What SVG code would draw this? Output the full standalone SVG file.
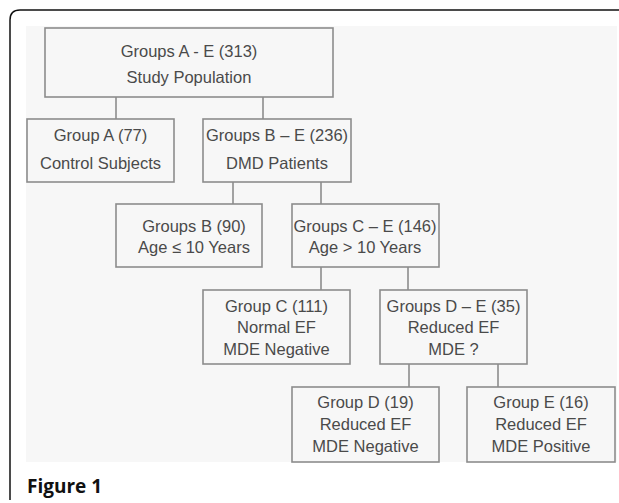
<svg xmlns="http://www.w3.org/2000/svg" width="619" height="503" viewBox="0 0 619 503">
<style>
.box{fill:#f7f7f7;stroke:#8c8c8c;stroke-width:1.6}
.t{font-family:"Liberation Sans",Arial,sans-serif;font-size:16.5px;fill:#4a4a4a;text-anchor:middle}
.c{stroke:#8c8c8c;stroke-width:1.6;fill:none}
</style>
<rect width="619" height="503" fill="#ffffff"/>
<path d="M10,500 V20 Q10,10 20,10 H619" fill="none" stroke="#111" stroke-width="1.5"/>
<rect x="26" y="26" width="591" height="436" fill="#f7f7f7"/>
<g id="connectors">
<line class="c" x1="116" y1="97" x2="116" y2="119"/>
<line class="c" x1="263" y1="97" x2="263" y2="119"/>
<line class="c" x1="233" y1="182" x2="233" y2="204"/>
<line class="c" x1="321" y1="182" x2="321" y2="204"/>
<line class="c" x1="321" y1="267" x2="321" y2="290"/>
<line class="c" x1="408" y1="267" x2="408" y2="290"/>
<line class="c" x1="409" y1="364" x2="409" y2="387"/>
<line class="c" x1="498" y1="364" x2="498" y2="387"/>
</g>
<g id="nodeAE">
<rect class="box" x="45" y="28" width="288" height="69"/>
<text class="t" x="189" y="57">Groups A - E (313)</text>
<text class="t" x="189" y="83">Study Population</text>
</g>
<g id="nodeA">
<rect class="box" x="27" y="119" width="147" height="63"/>
<text class="t" x="100.5" y="140.5">Group A (77)</text>
<text class="t" x="100.5" y="169">Control Subjects</text>
</g>
<g id="nodeBE">
<rect class="box" x="203" y="119" width="148" height="63"/>
<text class="t" x="277" y="140.5">Groups B – E (236)</text>
<text class="t" x="277" y="169">DMD Patients</text>
</g>
<g id="nodeB">
<rect class="box" x="116" y="204" width="146" height="63"/>
<text class="t" x="194" y="232">Groups B (90)</text>
<text class="t" x="194" y="252.5">Age ≤ 10 Years</text>
</g>
<g id="nodeCE">
<rect class="box" x="292" y="204" width="147" height="63"/>
<text class="t" x="365" y="232">Groups C – E (146)</text>
<text class="t" x="365" y="252.5">Age &gt; 10 Years</text>
</g>
<g id="nodeC">
<rect class="box" x="203" y="290" width="147" height="74"/>
<text class="t" x="276.5" y="311.5">Group C (111)</text>
<text class="t" x="276.5" y="333">Normal EF</text>
<text class="t" x="276.5" y="355">MDE Negative</text>
</g>
<g id="nodeDE">
<rect class="box" x="380" y="290" width="147" height="74"/>
<text class="t" x="453.5" y="311.5">Groups D – E (35)</text>
<text class="t" x="453.5" y="333">Reduced EF</text>
<text class="t" x="453.5" y="355">MDE ?</text>
</g>
<g id="nodeD">
<rect class="box" x="292" y="387" width="147" height="75"/>
<text class="t" x="365.5" y="408">Group D (19)</text>
<text class="t" x="365.5" y="430">Reduced EF</text>
<text class="t" x="365.5" y="452">MDE Negative</text>
</g>
<g id="nodeE">
<rect class="box" x="467" y="387" width="148" height="75"/>
<text class="t" x="541" y="408">Group E (16)</text>
<text class="t" x="541" y="430">Reduced EF</text>
<text class="t" x="541" y="452">MDE Positive</text>
</g>
<text x="27" y="493" font-family="'Open Sans','Noto Sans',sans-serif" font-weight="bold" font-size="19" fill="#111">Figure 1</text>
</svg>
